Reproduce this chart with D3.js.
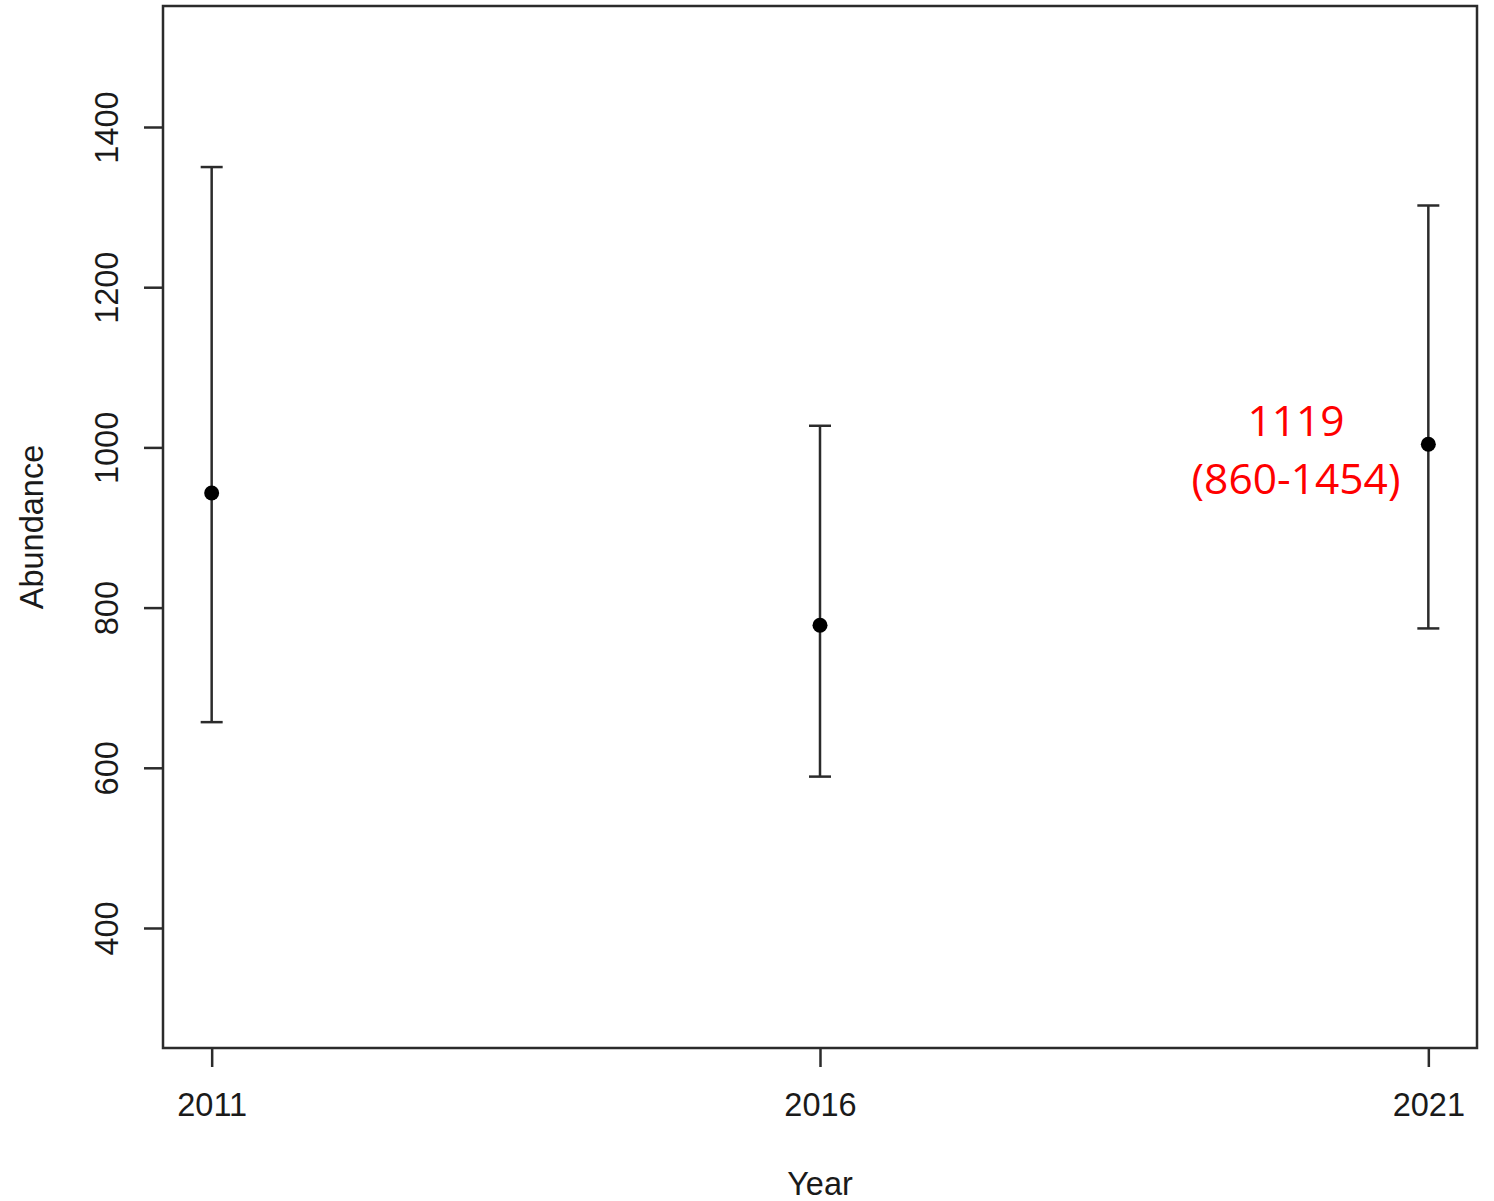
<!DOCTYPE html>
<html>
<head>
<meta charset="utf-8">
<script src="https://cdn.jsdelivr.net/npm/d3@7"></script>
<style>
  body { margin: 0; background: #fff; }
  svg { display: block; }
</style>
</head>
<body>
<svg id="chart" width="1494" height="1201"></svg>
<script>
"use strict";

// values
const years = [2011, 2016, 2021];
const estimate = [943, 778, 1004];
const lower = [657, 589, 774];
const upper = [1350, 1027, 1302];
const yTicks = [400, 600, 800, 1000, 1200, 1400];
const noteLines = ["1119", "(860-1454)"];

const box = {left: 163, right: 1477, top: 6, bottom: 1048};
const svg = d3.select("#chart");

const x = d3.scaleLinear()
    .domain([2010.6, 2021.4])
    .range([box.left, box.right]);

const y = d3.scaleLinear()
    .domain([400, 1400])
    .range([928, 127]);

const ink = "#2b2b2b";
const labelFont = "Liberation Sans, Arial, sans-serif";
const labelSize = 32.5;

// x axis
const xAxis = svg.append("g")
    .attr("transform", `translate(0,${box.bottom})`)
    .call(d3.axisBottom(x).tickValues(years).tickFormat(d3.format("d")).tickSize(19).tickPadding(26));
xAxis.select(".domain").remove();
xAxis.selectAll("line").attr("stroke", ink).attr("stroke-width", 2.5);
xAxis.selectAll("text")
    .attr("font-family", labelFont)
    .attr("font-size", labelSize)
    .attr("fill", "#1a1a1a");

// y axis, labels turned like R does it
const yAxis = svg.append("g")
    .attr("transform", `translate(${box.left},0)`)
    .call(d3.axisLeft(y).tickValues(yTicks).tickFormat(d3.format("d")).tickSize(19).tickPadding(0));
yAxis.select(".domain").remove();
yAxis.selectAll("line").attr("stroke", ink).attr("stroke-width", 2.5);
yAxis.selectAll("text")
    .attr("font-family", labelFont)
    .attr("font-size", labelSize)
    .attr("fill", "#1a1a1a")
    .attr("x", null)
    .attr("dy", null)
    .attr("text-anchor", "middle")
    .attr("transform", "translate(-45,0) rotate(-90)");

// plot frame
svg.append("rect")
    .attr("x", box.left)
    .attr("y", box.top)
    .attr("width", box.right - box.left)
    .attr("height", box.bottom - box.top)
    .attr("fill", "none")
    .attr("stroke", ink)
    .attr("stroke-width", 2.5);

// error bars
const rows = years.map((yr, i) => ({year: yr, est: estimate[i], lo: lower[i], hi: upper[i]}));
const bars = svg.append("g").selectAll("g")
    .data(rows)
    .enter().append("g");

bars.append("line")
    .attr("x1", d => x(d.year)).attr("x2", d => x(d.year))
    .attr("y1", d => y(d.lo)).attr("y2", d => y(d.hi))
    .attr("stroke", ink).attr("stroke-width", 2.5);

[d => d.lo, d => d.hi].forEach(function(val) {
    bars.append("line")
        .attr("x1", d => x(d.year) - 11).attr("x2", d => x(d.year) + 11)
        .attr("y1", d => y(val(d))).attr("y2", d => y(val(d)))
        .attr("stroke", ink).attr("stroke-width", 2.5);
});

bars.append("circle")
    .attr("cx", d => x(d.year))
    .attr("cy", d => y(d.est))
    .attr("r", 7.5)
    .attr("fill", "#000");

// axis titles
svg.append("text")
    .attr("x", x(2016))
    .attr("y", 1195)
    .attr("text-anchor", "middle")
    .attr("font-family", labelFont)
    .attr("font-size", labelSize)
    .attr("fill", "#1a1a1a")
    .text("Year");

svg.append("text")
    .attr("transform", `translate(43,${(box.top + box.bottom) / 2}) rotate(-90)`)
    .attr("text-anchor", "middle")
    .attr("font-family", labelFont)
    .attr("font-size", labelSize)
    .attr("fill", "#1a1a1a")
    .text("Abundance");

// red note next to 2021
svg.append("g").selectAll("text")
    .data(noteLines)
    .enter().append("text")
    .attr("x", 1296)
    .attr("y", (d, i) => 436 + i * 58)
    .attr("text-anchor", "middle")
    .attr("font-family", "Open Sans, Noto Sans, sans-serif")
    .attr("font-size", 42.5)
    .attr("fill", "#ff0000")
    .text(d => d);
</script>
</body>
</html>
